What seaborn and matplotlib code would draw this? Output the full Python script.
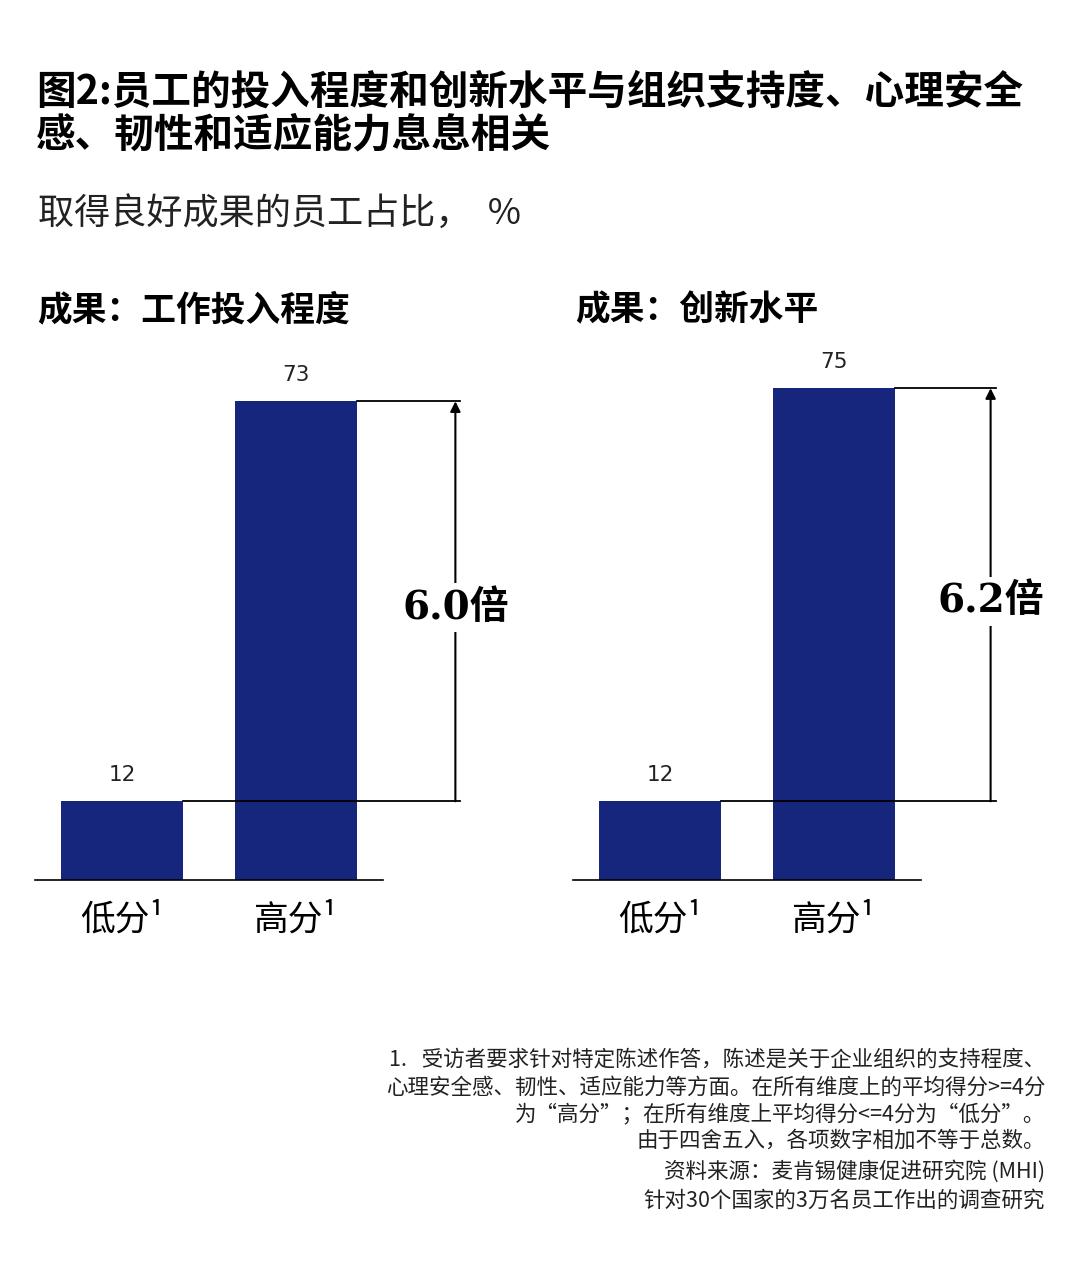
import matplotlib
matplotlib.use("Agg")
import matplotlib.pyplot as plt
import seaborn as sns
import pandas as pd

categories = ["低分¹", "高分¹"]
engagement = [12, 73]
innovation = [12, 75]
ratios = ["6.0倍", "6.2倍"]
panel_titles = ["成果：工作投入程度", "成果：创新水平"]
title_lines = ["图2:员工的投入程度和创新水平与组织支持度、心理安全",
               "感、韧性和适应能力息息相关"]
subtitle = "取得良好成果的员工占比，  %"
footnote = ["1.   受访者要求针对特定陈述作答，陈述是关于企业组织的支持程度、",
            "心理安全感、韧性、适应能力等方面。在所有维度上的平均得分>=4分",
            "为“高分”；在所有维度上平均得分<=4分为“低分”。",
            "由于四舍五入，各项数字相加不等于总数。",
            "资料来源：麦肯锡健康促进研究院 (MHI)",
            "针对30个国家的3万名员工作出的调查研究"]

CJK = ["Noto Sans CJK SC"]
plt.rcParams["font.family"] = CJK
NAVY = "#16267c"
W, H = 1080, 1261
fig = plt.figure(figsize=(W / 100, H / 100), dpi=100)

def fx(px): return px / W
def fy(py): return 1 - py / H

fig.text(fx(36), fy(92), title_lines[0], fontsize=28.5, fontweight="bold", va="center")
fig.text(fx(36), fy(135), title_lines[1], fontsize=28.5, fontweight="bold", va="center")
fig.text(fx(38), fy(214), subtitle, fontsize=26, va="center", color="#222222")

panels = [(35, engagement, 1.916, 1.945), (573, innovation, 1.90, 1.93)]
for i, (left, vals, ax_x, line_end) in enumerate(panels):
    scale = 400 / 61
    ymax = 80
    hpx = ymax * scale
    ax = fig.add_axes([fx(left), fy(880), fx(348), hpx / H])
    df = pd.DataFrame({"cat": categories, "val": vals})
    sns.barplot(data=df, x="cat", y="val", hue="cat", palette=[NAVY, NAVY],
                width=0.7, legend=False, ax=ax, saturation=1)
    ax.set_xlim(-0.5, 1.5)
    ax.set_ylim(0, ymax)
    for s in ["top", "right", "left"]:
        ax.spines[s].set_visible(False)
    ax.spines["bottom"].set_linewidth(1.2)
    ax.set_yticks([])
    ax.set_xlabel("")
    ax.set_ylabel("")
    ax.tick_params(axis="x", length=0, labelsize=25, pad=16)
    for j, v in enumerate(vals):
        ax.text(j, v + 2.5, str(v), ha="center", va="bottom", fontsize=15.5,
                fontfamily=["DejaVu Sans"], color="#222222")
    lo, hi = vals
    ax.plot([0.35, line_end], [lo, lo], color="black", lw=1.3, clip_on=False)
    ax.plot([1.35, line_end], [hi, hi], color="black", lw=1.3, clip_on=False)
    ax.annotate("", xy=(ax_x, hi), xytext=(ax_x, lo),
                arrowprops=dict(arrowstyle="-|>", color="black", lw=1.5,
                                mutation_scale=15, shrinkA=0, shrinkB=0),
                annotation_clip=False)
    ax.text(ax_x, (lo + hi) / 2 - 1, ratios[i], ha="center", va="center",
            fontsize=28, fontweight="bold",
            fontfamily=["DejaVu Serif", "Noto Sans CJK SC"],
            bbox=dict(facecolor="white", edgecolor="none", pad=4), clip_on=False)
    fig.text(fx(left + 2), fy(310), panel_titles[i], fontsize=25,
             fontweight="bold", va="center")

ys = [1060, 1088, 1115, 1141, 1171, 1201]
for t, y in zip(footnote, ys):
    fig.text(fx(1045), fy(y), t, ha="right", va="center", fontsize=15.5,
             color="#222222")

fig.savefig("out.png", dpi=100, facecolor="white")
